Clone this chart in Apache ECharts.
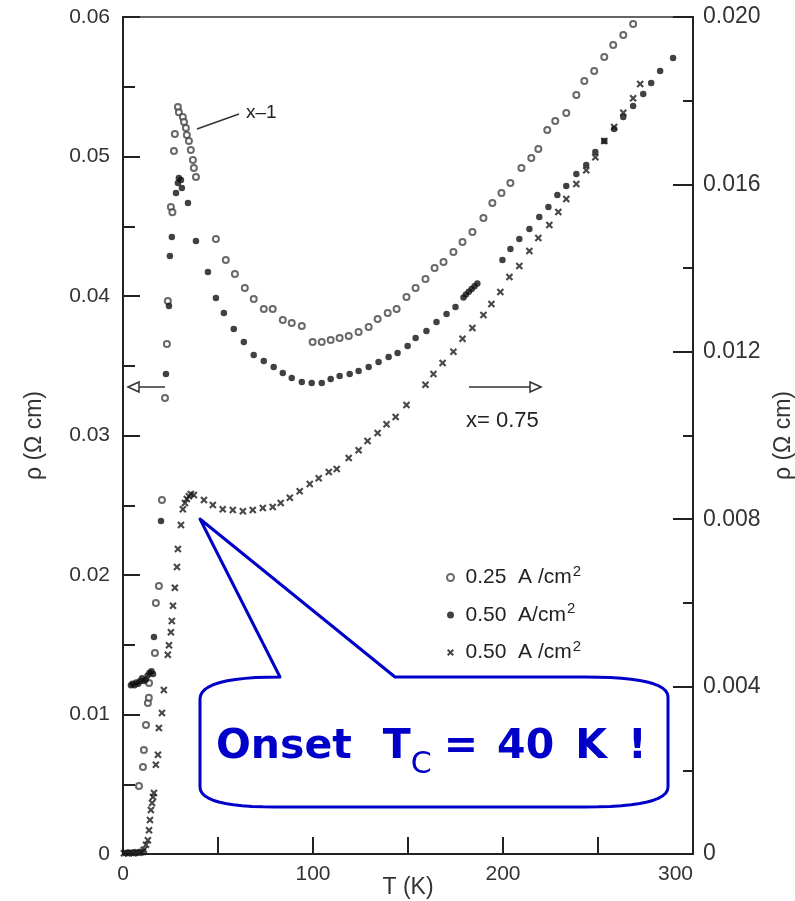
<!DOCTYPE html>
<html>
<head>
<meta charset="utf-8">
<script src="https://cdn.jsdelivr.net/npm/echarts@6/dist/echarts.min.js"></script>
<style>
  html, body { margin: 0; padding: 0; background: #fff; }
  #main { width: 795px; height: 901px; }
</style>
</head>
<body>
<div id="main"></div>
<script>
// x = 1, 0.25 A/cm2 (open circles, left axis)
var openT = [8.4,10.5,11.0,12.1,13.1,13.6,13.7,16.8,17.3,18.9,20.5,22.1,23.1,23.6,25.2,26.0,26.8,27.3,28.9,29.4,31.5,
  32.1,33.1,33.6,34.7,35.7,36.8,37.3,38.4,48.9,54.1,58.9,64.1,68.8,74.1,78.8,84.1,88.8,94.1,99.8,104.6,109.3,
  114.0,118.8,124.0,129.3,134.0,139.3,144.0,149.2,154.0,159.2,164.0,168.7,173.9,178.7,183.9,189.7,194.4,199.2,
  203.9,209.7,214.9,218.6,223.3,227.5,233.3,238.6,242.8,248.0,253.3,258.0,263.3,268.5];
var openRho = [0.00487,0.00624,0.00745,0.00925,0.01082,0.0112,0.01226,0.01441,0.01799,0.01921,0.02537,0.03269,0.03656,
  0.03964,0.04638,0.0460,0.05039,0.05161,0.05354,0.05318,0.05283,0.05247,0.05204,0.05154,0.05111,0.05046,0.04975,
  0.04917,0.04853,0.04408,0.04258,0.04157,0.04057,0.03978,0.03907,0.03907,0.03828,0.03806,0.03785,0.0367,0.0367,
  0.03684,0.03699,0.03713,0.03742,0.03778,0.03835,0.03878,0.03907,0.03993,0.04057,0.04122,0.04201,0.04243,0.04315,
  0.04387,0.04459,0.04559,0.04666,0.04738,0.0481,0.04917,0.04989,0.05053,0.0519,0.05254,0.05312,0.0544,0.05541,
  0.05613,0.05713,0.05799,0.05871,0.05949];

// x = 1, 0.50 A/cm2 (filled circles, left axis)
var filledT = [4.2,5.0,6.0,7.0,8.0,9.0,10.0,11.0,12.0,13.0,14.0,15.0,15.8,16.3,20.0,22.6,24.2,24.7,25.7,27.9,28.9,29.4,
  30.5,31.0,34.2,38.4,44.7,48.9,53.1,58.3,63.6,68.8,74.1,79.3,84.1,88.8,94.1,99.3,104.6,109.3,114.0,119.3,124.0,
  129.3,134.5,139.8,144.5,149.8,154.0,159.7,165.0,170.3,175.0,179.2,180.5,182.0,183.5,185.0,186.5,199.7,203.9,
  208.6,213.9,219.1,223.9,228.6,233.3,238.6,243.8,248.6,253.3,258.5,263.3,268.5,273.8,278.0,282.7,289.5];
var filledRho = [0.0121,0.0122,0.0121,0.0123,0.0122,0.0124,0.0126,0.0124,0.0125,0.0128,0.0130,0.0131,0.0129,0.01556,
  0.02387,0.03441,0.03928,0.04287,0.04423,0.04738,0.0481,0.04846,0.04831,0.04774,0.04667,0.04394,0.04172,0.03986,
  0.03878,0.03763,0.0367,0.03577,0.03534,0.03491,0.03448,0.03412,0.03383,0.03376,0.03376,0.03405,0.03426,0.03441,
  0.03462,0.03491,0.03527,0.03563,0.03591,0.03641,0.03699,0.03749,0.03813,0.03871,0.03921,0.0399,0.0401,0.0403,
  0.0405,0.0407,0.0409,0.04258,0.04337,0.04408,0.0448,0.04566,0.04638,0.04724,0.04788,0.04874,0.04939,0.05032,
  0.05111,0.05197,0.05283,0.05362,0.05448,0.05527,0.05613,0.05706];

// x = 0.75, 0.50 A/cm2 (crosses, right axis)
var crossT = [0.5,1.5,2.5,3.5,4.5,5.5,6.5,7.5,8.5,9.5,10.5,11.0,12.1,13.1,13.7,14.2,14.7,15.3,15.8,16.3,17.3,18.4,18.9,
  20.5,21.5,23.6,24.2,25.2,25.7,26.3,27.3,28.4,28.9,30.5,31.5,32.6,33.6,34.7,35.7,37.3,42.6,47.3,52.5,57.8,63.1,
  68.3,73.6,78.8,83.0,87.8,93.0,98.3,103.0,108.3,112.5,118.8,124.0,128.7,134.0,138.7,143.5,149.2,159.2,163.4,
  168.2,173.9,178.7,183.9,189.7,193.9,198.6,203.4,208.6,213.9,218.6,224.4,229.1,233.3,238.6,243.8,248.6,253.3,
  258.5,263.3,268.5,272.2];
var crossRho = [0.00002,0.00003,0.00002,0.00003,0.00003,0.00002,0.00003,0.00004,0.00003,0.00004,0.00005,0.0001,0.00022,
  0.00033,0.00057,0.00081,0.00105,0.00122,0.00136,0.00146,0.00213,0.00237,0.00301,0.00337,0.00392,0.00476,0.00499,
  0.0053,0.00557,0.00593,0.00636,0.00686,0.00729,0.00786,0.00824,0.00839,0.00848,0.00855,0.0086,0.00858,0.00846,
  0.00834,0.00824,0.00822,0.00819,0.00822,0.00827,0.00829,0.00839,0.00851,0.00867,0.00884,0.00898,0.00913,0.0092,
  0.00946,0.00965,0.00987,0.01006,0.01027,0.01044,0.01073,0.01121,0.01147,0.01173,0.012,0.01231,0.01257,0.01288,
  0.01314,0.01343,0.01379,0.01405,0.01441,0.01472,0.01503,0.01534,0.01565,0.01601,0.01634,0.01665,0.01704,
  0.01737,0.01771,0.01806,0.0184];

var seriesNames = ['0.25  A /cm²', '0.50  A/cm²', '0.50  A /cm²'];
var leftTicks = [0, 0.01, 0.02, 0.03, 0.04, 0.05, 0.06];
var rightTicks = [0, 0.004, 0.008, 0.012, 0.016, 0.020];

function pairs(xs, ys) {
  return xs.map(function (x, i) { return [x, ys[i]]; });
}

// points along a quadratic curve, for the rounded callout corners
function quad(p0, c, p1) {
  var pts = [];
  for (var i = 1; i <= 12; i++) {
    var t = i / 12, u = 1 - t;
    pts.push([u * u * p0[0] + 2 * u * t * c[0] + t * t * p1[0], u * u * p0[1] + 2 * u * t * c[1] + t * t * p1[1]]);
  }
  return pts;
}

var calloutPts = [[280, 677], [200, 519], [395, 677], [585, 677]]
  .concat(quad([585, 677], [668, 677], [668, 697]))
  .concat([[668, 787]])
  .concat(quad([668, 787], [668, 807], [585, 807]))
  .concat([[275, 807]])
  .concat(quad([275, 807], [200, 807], [200, 787]))
  .concat([[200, 699]])
  .concat(quad([200, 699], [200, 677], [280, 677]));

var labelFont = { fontFamily: 'Liberation Sans', fontSize: 21, color: '#333' };
var nameFont = { fontFamily: 'Liberation Sans', fontSize: 23, color: '#333' };
var crossPath = 'path://M0,2L2,0L5,3L8,0L10,2L7,5L10,8L8,10L5,7L2,10L0,8L3,5Z';
var blue = '#0000c8';
var big = { fontFamily: 'DejaVu Sans', fontWeight: 'bold', fontSize: 41, lineHeight: 48, verticalAlign: 'top', fill: blue };

function bigPad(left) {
  return Object.assign({}, big, { padding: [0, 0, 0, left] });
}

var chart = echarts.init(document.getElementById('main'));
var option = {
  backgroundColor: '#fff',
  animation: false,
  grid: { left: 123, right: 102, top: 17, bottom: 47, outerBoundsMode: 'none',
    show: true, borderColor: '#333', borderWidth: 1.5 },
  legend: {
    orient: 'vertical', left: 441, top: 559, itemWidth: 20, itemHeight: 7, itemGap: 13,
    formatter: function (name) { return name.replace('²', '{s|2}'); },
    textStyle: { fontFamily: 'Liberation Sans', fontSize: 21, color: '#222', lineHeight: 22,
      rich: { s: { fontFamily: 'Liberation Sans', fontSize: 15, color: '#222', padding: [0, 0, 12, 1] } } },
    data: seriesNames
  },
  xAxis: {
    type: 'value', min: 0, max: 300, interval: 50,
    name: 'T (K)', nameLocation: 'middle', nameGap: 22, nameMoveOverlap: false,
    nameTextStyle: nameFont,
    axisLine: { lineStyle: { color: '#222', width: 2 } },
    axisTick: { inside: true, length: 17, lineStyle: { color: '#222', width: 2 } },
    axisLabel: Object.assign({ margin: 10, alignMaxLabel: 'right',
      formatter: function (v) { return v % 100 === 0 ? String(v) : ''; } }, labelFont),
    splitLine: { show: false }
  },
  yAxis: [{
    type: 'value', min: 0, max: 0.06, interval: 0.01, position: 'left',
    name: 'ρ (Ω cm)', nameLocation: 'middle', nameGap: 77, nameRotate: 90, nameMoveOverlap: false,
    nameTextStyle: nameFont,
    axisLine: { show: true, lineStyle: { color: '#222', width: 2 } },
    axisTick: { inside: true, length: 17, lineStyle: { color: '#222', width: 2 } },
    minorTick: { show: true, splitNumber: 2, length: 12, lineStyle: { color: '#222', width: 2 } },
    axisLabel: Object.assign({ margin: 13, formatter: function (v) {
      var k = leftTicks.indexOf(Math.round(v * 100) / 100);
      return k === 0 ? '0' : leftTicks[k].toFixed(2);
    } }, labelFont),
    splitLine: { show: false }
  }, {
    type: 'value', min: 0, max: 0.02, interval: 0.004, position: 'right',
    name: 'ρ (Ω cm)', nameLocation: 'middle', nameGap: 79, nameRotate: 90, nameMoveOverlap: false,
    nameTextStyle: nameFont,
    axisLine: { show: true, lineStyle: { color: '#222', width: 2 } },
    axisTick: { inside: true, length: 20, lineStyle: { color: '#222', width: 2 } },
    minorTick: { show: true, splitNumber: 2, length: 10, lineStyle: { color: '#222', width: 2 } },
    axisLabel: Object.assign({ margin: 10, formatter: function (v) {
      var k = rightTicks.indexOf(Math.round(v * 1000) / 1000);
      return k === 0 ? '0' : rightTicks[k].toFixed(3);
    } }, labelFont, { fontSize: 23 }),
    splitLine: { show: false }
  }],
  series: [{
    name: seriesNames[0], type: 'scatter', yAxisIndex: 0,
    symbol: 'emptyCircle', symbolSize: 6,
    itemStyle: { color: '#444', borderColor: '#444', borderWidth: 1.6 },
    data: pairs(openT, openRho)
  }, {
    name: seriesNames[1], type: 'scatter', yAxisIndex: 0,
    symbol: 'circle', symbolSize: 6.5,
    itemStyle: { color: '#111' },
    data: pairs(filledT, filledRho)
  }, {
    name: seriesNames[2], type: 'scatter', yAxisIndex: 1,
    symbol: crossPath, symbolSize: 7.5,
    itemStyle: { color: '#1a1a1a' },
    data: pairs(crossT, crossRho)
  }],
  graphic: [
    // x = 1 label and pointer
    { type: 'line', shape: { x1: 197, y1: 129, x2: 239, y2: 114 }, style: { stroke: '#333', lineWidth: 1.5 } },
    { type: 'text', x: 246, y: 103, style: { text: 'x–1', fontFamily: 'Liberation Sans', fontSize: 19, fill: '#222' } },
    // arrow to left axis
    { type: 'line', shape: { x1: 138, y1: 387, x2: 165, y2: 387 }, style: { stroke: '#333', lineWidth: 1.5 } },
    { type: 'polygon', shape: { points: [[128, 387], [139, 382], [139, 392]] }, style: { fill: '#fff', stroke: '#333', lineWidth: 1.5 } },
    // arrow to right axis
    { type: 'line', shape: { x1: 469, y1: 387, x2: 530, y2: 387 }, style: { stroke: '#333', lineWidth: 1.5 } },
    { type: 'polygon', shape: { points: [[541, 387], [530, 382], [530, 392]] }, style: { fill: '#fff', stroke: '#333', lineWidth: 1.5 } },
    { type: 'text', x: 466, y: 410, style: { text: 'x= 0.75', fontFamily: 'Liberation Sans', fontSize: 22, fill: '#222' } },
    // callout
    { type: 'polygon', z: 100, shape: { points: calloutPts },
      style: { fill: '#fff', stroke: blue, lineWidth: 3, lineJoin: 'round' } },
    { type: 'text', z: 101, x: 216, y: 727,
      style: {
        text: '{o|Onset}{t|T}{c|C}{e|=}{n|40}{k|K}{x|!}',
        fill: blue,
        rich: {
          o: big,
          t: bigPad(31),
          c: { fontFamily: 'DejaVu Sans', fontSize: 30, lineHeight: 30, verticalAlign: 'top', padding: [23, 0, 0, 0], fill: blue },
          e: bigPad(12),
          n: bigPad(19),
          k: bigPad(21),
          x: bigPad(21)
        }
      } }
  ]
};
chart.setOption(option);
</script>
</body>
</html>
